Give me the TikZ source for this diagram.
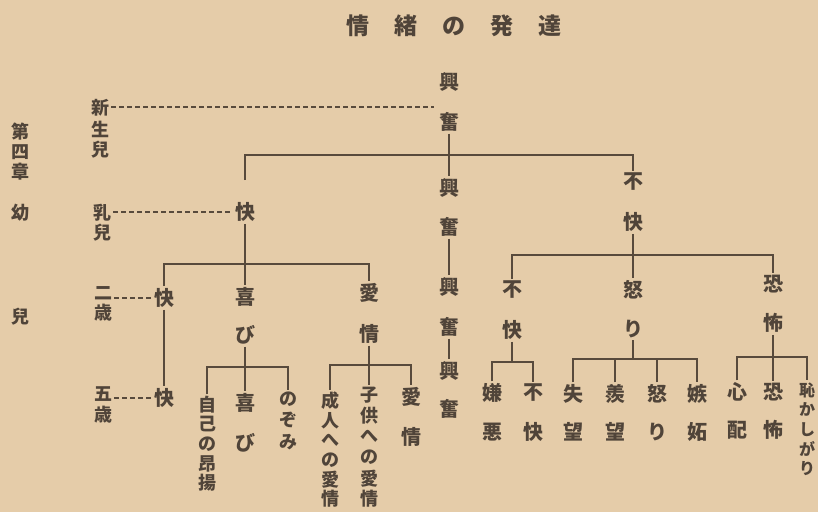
\documentclass[tikz,border=0pt]{standalone}
\usepackage{fontspec}
\newfontfamily\cjk{Noto Sans CJK JP}
\definecolor{paper}{RGB}{229,204,169}
\definecolor{ink}{RGB}{80,68,57}
\definecolor{rule}{RGB}{88,74,60}
\tikzset{
  ch/.style={font=\cjk\bfseries\fontsize{20}{20}\selectfont, text=ink, inner sep=2pt},
  sm/.style={font=\cjk\bfseries\fontsize{18}{18}\selectfont},
  xs/.style={font=\cjk\bfseries\fontsize{16}{16}\selectfont},
  tr/.style={draw=rule, line width=1.2pt},
  dsh/.style={draw=rule, line width=1.2pt, dash pattern=on 5pt off 3pt},
}
% \vword[style]{name}{x}{y of first}{step}{chars}
\newcommand\vword[6][]{%
  \foreach \chr [count=\i] in {#6}{\node[ch,#1] (#2-\i) at (#3,{#4+(\i-1)*#5}) {\chr};}}
\begin{document}
\begin{tikzpicture}[x=1pt,y=-1pt]
\useasboundingbox (0,0) rectangle (818,512);
\fill[paper] (0,0) rectangle (818,512);

% title
\node[ch, font=\cjk\bfseries\fontsize{23}{23}\selectfont] (title) at (454,26)
  {情\hspace{25pt}緒\hspace{25pt}の\hspace{25pt}発\hspace{25pt}達};

% margin
\vword[sm]{dai}{20}{132}{20}{第,四,章}
\node[ch,sm] (you) at (20,213) {幼};
\node[ch,sm] (ji) at (20,317) {兒};

% age labels
\vword[sm]{shin}{100}{108}{21}{新,生,兒}
\vword[sm]{nyu}{102}{213}{20}{乳,兒}
\vword[sm]{ni}{103}{293}{20}{二,歳}
\vword[sm]{go}{103}{394}{21}{五,歳}

% centre column
\vword{kA}{449}{82}{40}{興,奮}
\vword{kB}{449}{188}{39}{興,奮}
\vword{kC}{449}{287}{40}{興,奮}
\vword{kD}{449}{371}{38}{興,奮}

% level 2
\node[ch] (kaiA-1) at (245,212) {快};
\vword{fA}{633}{182}{40}{不,快}

% level 3
\node[ch] (kaiB-1) at (164,298) {快};
\node[ch] (kaiC-1) at (164,398) {快};
\vword{kiA}{245}{297}{38}{喜,び}
\vword{aiA}{369}{293}{41}{愛,情}
\vword{fB}{512}{290}{40}{不,快}
\vword{ikA}{633}{290}{39}{怒,り}
\vword{kyoA}{773}{284}{39}{恐,怖}

% level 4
\vword[sm]{jiko}{207}{405}{19.5}{自,己,の,昂,揚}
\vword{kiB}{245}{403}{40}{喜,び}
\vword[sm]{nozo}{288}{399}{21.5}{の,ぞ,み}
\vword[sm]{sei}{330}{401}{19.6}{成,人,へ,の,愛,情}
\vword[sm]{ko}{369}{395}{20.8}{子,供,へ,の,愛,情}
\vword{aiB}{411}{397}{40}{愛,情}
\vword{ken}{492}{393}{39}{嫌,悪}
\vword{fC}{533}{393}{39}{不,快}
\vword{shitsu}{573}{394}{38}{失,望}
\vword{sen}{615}{394}{38}{羨,望}
\vword{ikB}{657}{394}{38}{怒,り}
\vword{shitto}{697}{394}{38}{嫉,妬}
\vword{shinpai}{737}{392}{38}{心,配}
\vword{kyoB}{773}{392}{38}{恐,怖}
\vword[xs]{haji}{807}{390}{19.7}{恥,か,し,が,り}

% bar levels
\coordinate (bar1) at (449,155);
\coordinate (bar2) at (245,264);
\coordinate (bar5) at (633,255);
\coordinate (bar3) at (245,367);
\coordinate (bar4) at (369,365);
\coordinate (bar6) at (512,362);
\coordinate (bar7) at (633,359);
\coordinate (bar8) at (773,357);

% dashed age links
\coordinate (dashend) at (434,107);
\draw[dsh] (shin-1.east |- dashend) -- (dashend);
\draw[dsh] (nyu-1.east |- kaiA-1.west) -- (kaiA-1.west);
\draw[dsh] (ni-1.east |- kaiB-1.west) -- (kaiB-1.west);
\draw[dsh] (go-1.east |- kaiC-1.west) -- (kaiC-1.west);

% centre column
\draw[tr] (kA-2.south) -- (kB-1.north);
\draw[tr] (kB-2.south) -- (kC-1.north);
\draw[tr] (kC-2.south) -- (kD-1.north);

% top bar
\draw[tr, shorten <=20pt] (kaiA-1.north) |- (fA-1.north |- bar1) -- (fA-1.north);

% left branch
\draw[tr] (kaiA-1.south) -- (kiA-1.north);
\draw[tr] (kaiB-1.north) |- (aiA-1.north |- bar2) -- (aiA-1.north);
\draw[tr] (kaiB-1.south) -- (kaiC-1.north);
\draw[tr] (kiA-2.south) -- (kiB-1.north);
\draw[tr] (jiko-1.north) |- (nozo-1.north |- bar3) -- (nozo-1.north);
\draw[tr] (aiA-2.south) -- (ko-1.north);
\draw[tr] (sei-1.north) |- (aiB-1.north |- bar4) -- (aiB-1.north);

% right branch
\draw[tr] (fA-2.south) -- (ikA-1.north);
\draw[tr] (fB-1.north) |- (kyoA-1.north |- bar5) -- (kyoA-1.north);
\draw[tr] (fB-2.south) -- (bar6);
\draw[tr] (ken-1.north) |- (fC-1.north |- bar6) -- (fC-1.north);
\draw[tr] (ikA-2.south) -- (bar7);
\draw[tr] (shitsu-1.north) |- (shitto-1.north |- bar7) -- (shitto-1.north);
\draw[tr] (sen-1.north) -- (sen-1.north |- bar7);
\draw[tr] (ikB-1.north) -- (ikB-1.north |- bar7);
\draw[tr] (kyoA-2.south) -- (kyoB-1.north);
\draw[tr] (shinpai-1.north) |- (haji-1.north |- bar8) -- (haji-1.north);
\end{tikzpicture}
\end{document}
